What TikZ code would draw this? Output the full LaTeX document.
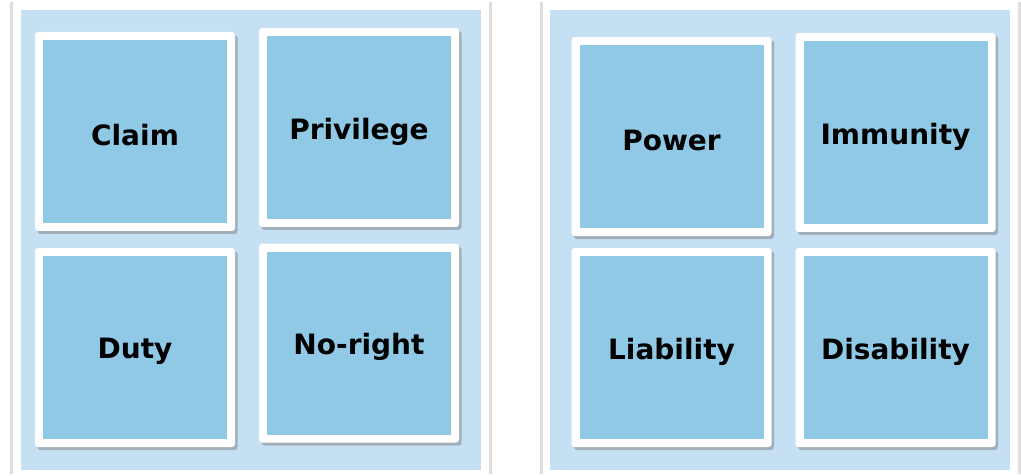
\documentclass[tikz,border=0pt]{standalone}
\usepackage{fontspec}
\setmainfont{DejaVu Sans}
\usetikzlibrary{shadows}
\definecolor{panelblue}{RGB}{197,224,242}
\definecolor{tileblue}{RGB}{143,201,230}
\definecolor{panelshade}{RGB}{222,222,222}
\tikzset{
	tile/.style={fill=white,rounded corners=3pt,minimum width=200pt,minimum height=199pt,inner sep=0pt,
		drop shadow={shadow xshift=2.5pt,shadow yshift=-3pt,opacity=0.5},
		path picture={\fill[tileblue,sharp corners] ([shift={(8pt,8pt)}]path picture bounding box.south west) rectangle ([shift={(-8pt,-8pt)}]path picture bounding box.north east);},
		font=\fontsize{28}{30}\selectfont\bfseries}
}
\begin{document}
\begin{tikzpicture}[x=1pt,y=-1pt]
			\useasboundingbox (0,0) rectangle (1021,476);
			% the two panels
			\fill[panelshade] (10,2) rectangle (492,474);
			\fill[white] (12.5,2) rectangle (489,474);
			\fill[panelblue] (21,10) rectangle (481,470);
			\fill[panelshade] (540,2) rectangle (1021,474);
			\fill[white] (542.5,2) rectangle (1017.5,474);
			\fill[panelblue] (550,10) rectangle (1010,470);
			% the eight tiles
			\foreach \x/\y/\n/\t in {135/131.5/claim/Claim,359/127.5/privilege/Privilege,135/347.5/duty/Duty,359/343/noright/No-right,
				671.5/136.5/power/Power,895.5/132.5/immunity/Immunity,671.5/347.5/liability/Liability,895.5/347.5/disability/Disability}
				\node[tile] (\n) at (\x,\y) {\raisebox{-4pt}[\height][\depth]{\t}};
\end{tikzpicture}
\end{document}
